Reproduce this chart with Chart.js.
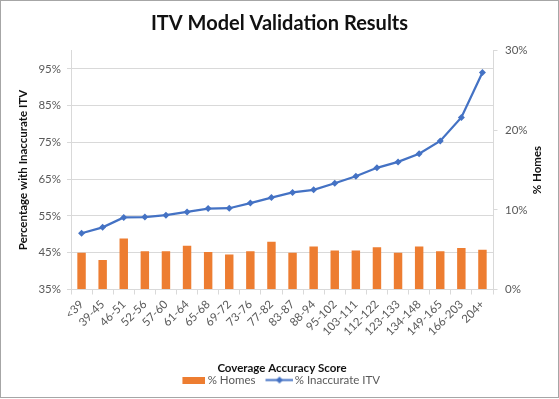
<!DOCTYPE html>
<html>
<head>
<meta charset="utf-8">
<title>ITV Model Validation Results</title>
<script src="https://cdn.jsdelivr.net/npm/chart.js@4.4.1/dist/chart.umd.min.js"></script>
<style>
    body { margin: 0; background: #fff; }
    #frame {
        position: absolute; left: 0; top: 0;
        width: 559px; height: 398px;
        border: 1px solid #a6a6a6; box-sizing: border-box;
    }
    #chart-itv { position: absolute; left: 0; top: 0; }
</style>
</head>
<body>
<div id="frame"></div>
<canvas id="chart-itv" width="559" height="399"></canvas>
<script>
// Data
const scoreLabels = ['<39', '39-45', '46-51', '52-56', '57-60', '61-64', '65-68', '69-72', '73-76', '77-82',
    '83-87', '88-94', '95-102', '103-111', '112-122', '123-133', '134-148', '149-165', '166-203', '204+'];
const homesPct = [4.6, 3.7, 6.4, 4.8, 4.8, 5.5, 4.7, 4.4, 4.8, 6.0, 4.6, 5.4, 4.9, 4.9, 5.3, 4.6, 5.4, 4.8, 5.2, 5.0];
const inaccuratePct = [50.3, 51.9, 54.6, 54.7, 55.2, 56.1, 57.0, 57.1, 58.5, 60.0,
    61.4, 62.1, 63.9, 65.8, 68.1, 69.7, 71.9, 75.4, 81.8, 94.0];
const leftTicks = [35, 45, 55, 65, 75, 85, 95];
const rightTicks = [0, 10, 20, 30];

const ChartComponent = function () {
    const context = {
        colors: {
            bar: '#ED7D31',
            line: '#4472C4',
            grid: '#d9d9d9',
            tick: '#595959',
            title: '#111111'
        },
        font: 'Lato'
    };

    // Legend swatches, drawn on small canvases
    const barSwatch = function () {
        const c = document.createElement('canvas');
        c.width = 30; c.height = 7;
        const ctx = c.getContext('2d');
        ctx.fillStyle = context.colors.bar;
        ctx.fillRect(7, 0, 23, 7);
        return c;
    }

    const lineSwatch = function () {
        const c = document.createElement('canvas');
        c.width = 32; c.height = 9;
        const ctx = c.getContext('2d');
        ctx.strokeStyle = context.colors.line;
        ctx.lineWidth = 2;
        ctx.beginPath();
        ctx.moveTo(4, 4.5);
        ctx.lineTo(32, 4.5);
        ctx.stroke();
        ctx.fillStyle = context.colors.line;
        ctx.beginPath();
        ctx.moveTo(18, 1); ctx.lineTo(21.5, 4.5); ctx.lineTo(18, 8); ctx.lineTo(14.5, 4.5);
        ctx.closePath();
        ctx.fill();
        return c;
    }

    // '% Homes' title reads bottom to top, so draw it here
    const rightTitle = {
        id: 'rightTitle',
        afterDraw: function (chart) {
            const ctx = chart.ctx;
            const area = chart.chartArea;
            ctx.save();
            ctx.translate(537, (area.top + area.bottom) / 2);
            ctx.rotate(-Math.PI / 2);
            ctx.font = 'bold 11.5px ' + context.font;
            ctx.fillStyle = context.colors.title;
            ctx.textAlign = 'center';
            ctx.textBaseline = 'middle';
            ctx.fillText('% Homes', 0, 0);
            ctx.restore();
        }
    }

    const init = function () {
        const swatches = [barSwatch(), lineSwatch()];

        new Chart(document.getElementById('chart-itv'), {
            data: {
                labels: scoreLabels,
                datasets: [{
                    type: 'bar',
                    label: '% Homes',
                    data: homesPct,
                    yAxisID: 'y1',
                    backgroundColor: context.colors.bar,
                    barPercentage: 0.4,
                    categoryPercentage: 1,
                    order: 1
                }, {
                    type: 'line',
                    label: '% Inaccurate ITV',
                    data: inaccuratePct,
                    yAxisID: 'y',
                    borderColor: context.colors.line,
                    backgroundColor: context.colors.line,
                    borderWidth: 2.25,
                    pointStyle: 'rectRot',
                    pointRadius: 3.5,
                    pointBorderWidth: 0,
                    tension: 0,
                    order: 0
                }]
            },
            options: {
                responsive: false,
                animation: false,
                layout: { padding: { left: 0, right: 0, top: 0, bottom: 3.2 } },
                plugins: {
                    title: {
                        display: true,
                        text: 'ITV Model Validation Results',
                        color: context.colors.title,
                        font: { family: context.font, size: 20, weight: 'bold', lineHeight: 1.2 },
                        padding: { top: 11.5, bottom: 15 }
                    },
                    legend: {
                        position: 'bottom',
                        labels: {
                            usePointStyle: true,
                            pointStyleWidth: 23,
                            padding: 10.5,
                            color: context.colors.tick,
                            font: { family: context.font, size: 11.5 },
                            generateLabels: function (chart) {
                                return chart.data.datasets.map(function (ds, i) {
                                    return {
                                        text: ds.label,
                                        pointStyle: swatches[i],
                                        fillStyle: ds.backgroundColor,
                                        strokeStyle: ds.backgroundColor,
                                        lineWidth: 0,
                                        datasetIndex: i,
                                        fontColor: context.colors.tick
                                    };
                                });
                            }
                        }
                    },
                    tooltip: { enabled: false }
                },
                scales: {
                    x: {
                        offset: true,
                        grid: { offset: true, drawOnChartArea: false, color: context.colors.grid, tickLength: 5 },
                        border: { color: context.colors.grid },
                        ticks: {
                            autoSkip: false,
                            minRotation: 45,
                            maxRotation: 45,
                            padding: 3,
                            color: context.colors.tick,
                            font: { family: context.font, size: 11.5 }
                        },
                        title: {
                            display: true,
                            text: 'Coverage Accuracy Score',
                            color: context.colors.title,
                            font: { family: context.font, size: 11.5, weight: 'bold', lineHeight: 1.2 },
                            padding: { top: 0, bottom: -11.6 }
                        },
                        afterFit: function (scale) { scale.height = 74.3; }
                    },
                    y: {
                        position: 'left',
                        min: 35,
                        max: 100,
                        grid: { color: context.colors.grid, tickLength: 4 },
                        border: { color: context.colors.grid },
                        afterBuildTicks: function (scale) {
                            scale.ticks = leftTicks.map(function (v) { return { value: v }; });
                        },
                        ticks: {
                            padding: 6,
                            color: context.colors.tick,
                            font: { family: context.font, size: 11.5 },
                            callback: function (v) { return v + '%'; }
                        },
                        title: {
                            display: true,
                            text: 'Percentage with Inaccurate ITV',
                            color: context.colors.title,
                            font: { family: context.font, size: 11.5, weight: 'bold', lineHeight: 1.2 },
                            padding: { top: 16.1, bottom: 0 }
                        },
                        afterFit: function (scale) { scale.width = 71; }
                    },
                    y1: {
                        position: 'right',
                        min: 0,
                        max: 30,
                        grid: { drawOnChartArea: false, color: context.colors.grid, tickLength: 4.5 },
                        border: { color: context.colors.grid },
                        afterBuildTicks: function (scale) {
                            scale.ticks = rightTicks.map(function (v) { return { value: v }; });
                        },
                        ticks: {
                            padding: 7.5,
                            color: context.colors.tick,
                            font: { family: context.font, size: 11.5 },
                            callback: function (v) { return v + '%'; }
                        },
                        afterFit: function (scale) { scale.width = 66; }
                    }
                }
            },
            plugins: [rightTitle]
        });
    }

    return {
        init: init
    }
}();

ChartComponent.init();
</script>
</body>
</html>
